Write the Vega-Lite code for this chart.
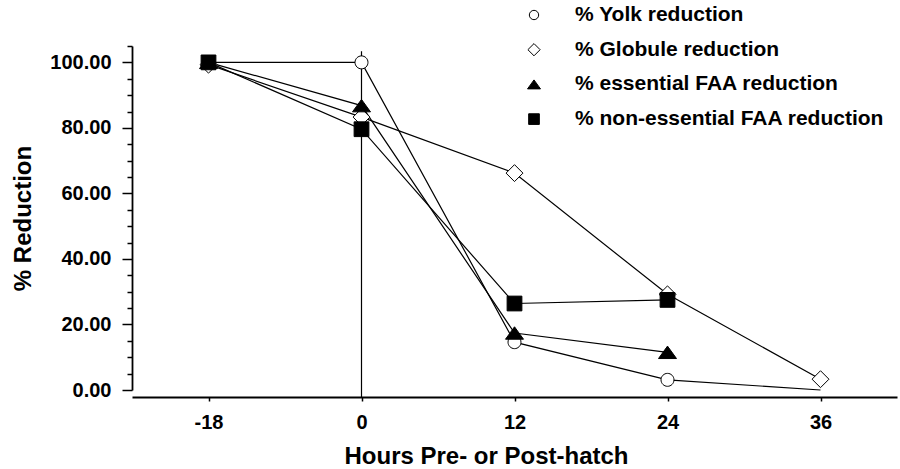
{
  "$schema": "https://vega.github.io/schema/vega-lite/v6.json",
  "width": 765,
  "height": 344,
  "autosize": {"type": "none"},
  "padding": {"left": 132, "top": 46, "right": 3, "bottom": 79},
  "config": {"view": {"stroke": null}, "font": "Liberation Sans"},
  "data": {
    "values": [
      {"series": "% Yolk reduction", "hour": -18, "reduction": 100},
      {"series": "% Yolk reduction", "hour": 0, "reduction": 100},
      {"series": "% Yolk reduction", "hour": 12, "reduction": 14.6},
      {"series": "% Yolk reduction", "hour": 24, "reduction": 3.1},
      {"series": "% Yolk reduction", "hour": 36, "reduction": 0},
      {"series": "% Globule reduction", "hour": -18, "reduction": 99.3},
      {"series": "% Globule reduction", "hour": 0, "reduction": 83.3},
      {"series": "% Globule reduction", "hour": 12, "reduction": 66.2},
      {"series": "% Globule reduction", "hour": 24, "reduction": 29.2},
      {"series": "% Globule reduction", "hour": 36, "reduction": 3.3},
      {"series": "% essential FAA reduction", "hour": -18, "reduction": 100},
      {"series": "% essential FAA reduction", "hour": 0, "reduction": 86.8},
      {"series": "% essential FAA reduction", "hour": 12, "reduction": 17.4},
      {"series": "% essential FAA reduction", "hour": 24, "reduction": 11.5},
      {"series": "% non-essential FAA reduction", "hour": -18, "reduction": 100},
      {"series": "% non-essential FAA reduction", "hour": 0, "reduction": 79.6},
      {"series": "% non-essential FAA reduction", "hour": 12, "reduction": 26.4},
      {"series": "% non-essential FAA reduction", "hour": 24, "reduction": 27.5}
    ]
  },
  "encoding": {
    "x": {
      "field": "hour",
      "type": "ordinal",
      "title": "Hours Pre- or Post-hatch",
      "scale": {"type": "point", "domain": [-18, 0, 12, 24, 36], "padding": 0.5},
      "axis": {
        "labelAngle": 0,
        "offset": 7,
        "tickSize": 4,
        "tickColor": "black",
        "tickWidth": 1.5,
        "domainColor": "black",
        "domainWidth": 1.8,
        "labelPadding": 11,
        "labelFont": "Liberation Sans",
        "labelFontSize": 20,
        "labelFontWeight": "bold",
        "labelColor": "black",
        "titleFont": "Liberation Sans",
        "titleFontSize": 24,
        "titleFontWeight": "bold",
        "titleColor": "black",
        "titlePadding": 12,
        "titleX": 354
      }
    },
    "y": {
      "field": "reduction",
      "type": "quantitative",
      "title": "% Reduction",
      "scale": {"domain": [0, 105], "nice": false, "zero": false},
      "axis": {
        "values": [0, 5, 10, 15, 20, 25, 30, 35, 40, 45, 50, 55, 60, 65, 70, 75, 80, 85, 90, 95, 100, 105],
        "labelExpr": "datum.value % 20 === 0 ? format(datum.value, '.2f') : ''",
        "tickSize": {"condition": {"test": "datum.value % 20 === 0", "value": 10}, "value": 5},
        "grid": false,
        "tickColor": "black",
        "tickWidth": 1.5,
        "domainColor": "black",
        "domainWidth": 1.8,
        "labelPadding": 11,
        "labelFont": "Liberation Sans",
        "labelFontSize": 20,
        "labelFontWeight": "bold",
        "labelColor": "black",
        "titleFont": "Liberation Sans",
        "titleFontSize": 24,
        "titleFontWeight": "bold",
        "titleColor": "black",
        "titlePadding": 14
      }
    }
  },
  "layer": [
    {
      "data": {"values": [{"hour": 0, "reduction": 103.4, "reduction2": -2.1}]},
      "mark": {"type": "rule", "color": "black", "strokeWidth": 1.2},
      "encoding": {"y2": {"field": "reduction2"}}
    },
    {
      "mark": {"type": "line", "color": "black", "strokeWidth": 1.2},
      "encoding": {"detail": {"field": "series", "type": "nominal"}}
    },
    {
      "transform": [{"filter": "!(datum.hour === 36 && datum.series === '% Yolk reduction')"}],
      "mark": {"type": "point", "filled": true, "stroke": "black", "strokeWidth": 1, "size": 324, "opacity": 1},
      "encoding": {
        "shape": {
          "field": "series",
          "type": "nominal",
          "scale": {
            "domain": ["% Yolk reduction", "% Globule reduction", "% essential FAA reduction", "% non-essential FAA reduction"],
            "range": [
              "M-0.72,0A0.72,0.72,0,1,1,0.72,0A0.72,0.72,0,1,1,-0.72,0Z",
              "M-0.94,0L0,-0.94L0.94,0L0,0.94Z",
              "M0,-0.69L1,0.69L-1,0.69Z",
              "M-0.82,-0.82H0.82V0.82H-0.82Z"
            ]
          },
          "legend": {
            "orient": "none",
            "legendX": 391.5,
            "legendY": -41.5,
            "title": null,
            "labelFont": "Liberation Sans",
            "labelFontSize": 21,
            "labelFontWeight": "bold",
            "labelColor": "black",
            "labelLimit": 500,
            "labelOffset": 30.5,
            "symbolSize": 169,
            "rowPadding": 12.7,
            "symbolStrokeWidth": 1
          }
        },
        "fill": {
          "field": "series",
          "type": "nominal",
          "scale": {
            "domain": ["% Yolk reduction", "% Globule reduction", "% essential FAA reduction", "% non-essential FAA reduction"],
            "range": ["white", "white", "black", "black"]
          },
          "legend": null
        }
      }
    }
  ]
}
